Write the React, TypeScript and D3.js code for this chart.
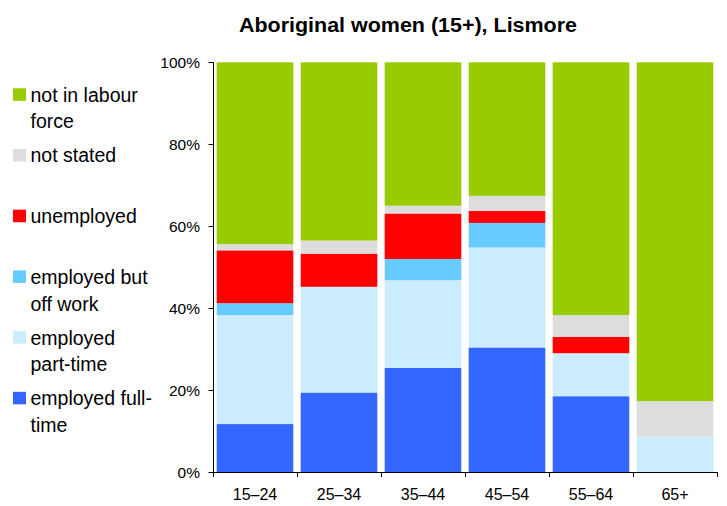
import React from "react";
import * as d3 from "d3";

const categories = ["15–24", "25–34", "35–44", "45–54", "55–64", "65+"];
const fullTime = [11.7, 19.4, 25.4, 30.4, 18.5, 0];
const partTime = [26.6, 25.8, 21.4, 24.4, 10.5, 8.6];
const offWork = [2.9, 0, 5.2, 6.0, 0, 0];
const unemployed = [12.9, 8.1, 11.1, 2.9, 4.0, 0];
const notStated = [1.5, 3.2, 1.9, 3.7, 5.3, 8.7];
const notInLabourForce = [44.4, 43.5, 35.0, 32.6, 61.7, 82.7];
const yTicks = [0, 20, 40, 60, 80, 100];

const seriesKeys = ["fullTime", "partTime", "offWork", "unemployed", "notStated", "notInLabourForce"];
const seriesColors: Record<string, string> = {
  fullTime: "#3366FF",
  partTime: "#CCECFF",
  offWork: "#66CCFF",
  unemployed: "#FF0000",
  notStated: "#DDDDDD",
  notInLabourForce: "#99CC00",
};
const legendItems = [
  { key: "notInLabourForce", lines: ["not in labour", "force"] },
  { key: "notStated", lines: ["not stated"] },
  { key: "unemployed", lines: ["unemployed"] },
  { key: "offWork", lines: ["employed but", "off work"] },
  { key: "partTime", lines: ["employed", "part-time"] },
  { key: "fullTime", lines: ["employed full-", "time"] },
];

const W = 727;
const H = 506;
const left = 213;
const right = 717;
const top = 62.3;
const bottom = 472;

export default function App() {
  const rows = categories.map((c, i) => ({
    category: c,
    fullTime: fullTime[i],
    partTime: partTime[i],
    offWork: offWork[i],
    unemployed: unemployed[i],
    notStated: notStated[i],
    notInLabourForce: notInLabourForce[i],
  }));
  const stacked = d3.stack<any>().keys(seriesKeys)(rows);
  const x = d3.scaleBand().domain(categories).range([left, right]).paddingInner(0.088).paddingOuter(0.044);
  const y = d3.scaleLinear().domain([0, 100]).range([bottom, top]);
  const step = x.step();
  const font = "'Liberation Sans', Arial, Helvetica, sans-serif";

  return (
    <svg width={W} height={H} style={{ position: "absolute", left: 0, top: 0, background: "#fff" }} fontFamily={font}>
      <rect x={0} y={0} width={W} height={H} fill="#fff" />
      <text x={239} y={32} fontWeight="bold" fontSize={20} fill="#000" textLength={338} lengthAdjust="spacingAndGlyphs">
        Aboriginal women (15+), Lismore
      </text>
      {stacked.map((s) => (
        <g key={s.key} fill={seriesColors[s.key]}>
          {s.map((d, i) =>
            d[1] - d[0] > 0 ? (
              <rect
                key={i}
                x={x(categories[i])}
                y={y(d[1])}
                width={x.bandwidth()}
                height={y(d[0]) - y(d[1])}
              />
            ) : null
          )}
        </g>
      ))}
      {/* y axis */}
      <line x1={left + 0.5} x2={left + 0.5} y1={top} y2={bottom} stroke="#000" />
      {yTicks.map((t) => (
        <g key={t}>
          <line x1={left - 4.5} x2={left + 0.5} y1={Math.round(y(t)) + 0.5} y2={Math.round(y(t)) + 0.5} stroke="#000" />
          <text x={200} y={y(t)} dy="0.36em" textAnchor="end" fontSize={15.5} fill="#000">
            {t}%
          </text>
        </g>
      ))}
      {/* x axis */}
      <line x1={left} x2={right + 0.5} y1={bottom + 0.5} y2={bottom + 0.5} stroke="#000" />
      {categories.map((c, i) => (
        <line key={"t" + i} x1={left + step * (i + 1) + 0.5} x2={left + step * (i + 1) + 0.5} y1={bottom} y2={bottom + 5} stroke="#000" />
      ))}
      <line x1={left + 0.5} x2={left + 0.5} y1={bottom} y2={bottom + 5} stroke="#000" />
      {categories.map((c) => (
        <text key={c} x={(x(c) as number) + x.bandwidth() / 2} y={500} textAnchor="middle" fontSize={16} fill="#000">
          {c}
        </text>
      ))}
      {/* legend */}
      {legendItems.map((it, i) => {
        const sy = 88.3 + i * 60.7;
        return (
          <g key={it.key}>
            <rect x={13} y={sy} width={13} height={12.5} fill={seriesColors[it.key]} />
            {it.lines.map((ln, j) => (
              <text key={j} x={30.5} y={sy + 13.4 + j * 26.7} fontSize={19.5} fill="#000">
                {ln}
              </text>
            ))}
          </g>
        );
      })}
    </svg>
  );
}
